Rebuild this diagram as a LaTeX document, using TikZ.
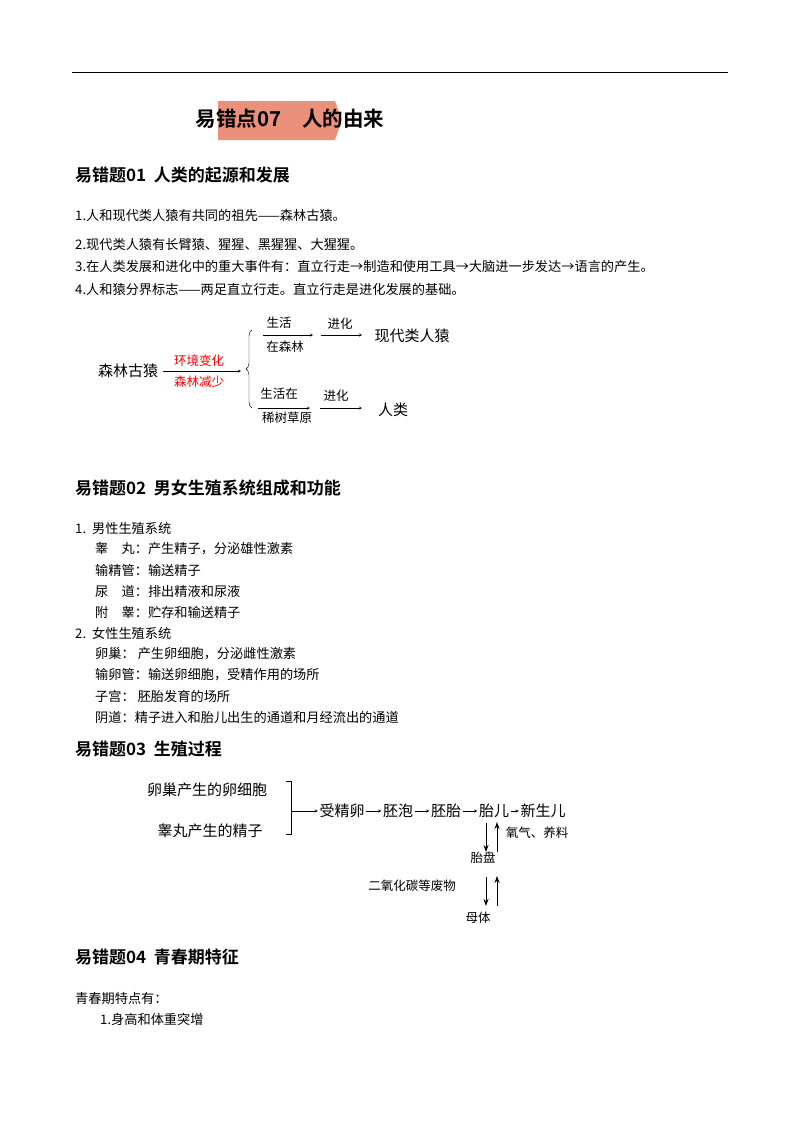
\documentclass[tikz,border=0pt]{standalone}
\usepackage{fontspec}
\setmainfont{Noto Sans CJK SC}
\newfontfamily\cjkbold{Noto Sans CJK SC Bold}
\usetikzlibrary{positioning,decorations.pathreplacing,arrows.meta}
\tikzset{
  body/.style={anchor=west,inner sep=0pt,font=\fontsize{13.2}{15}\selectfont},
  head/.style={anchor=west,inner sep=0pt,font=\fontsize{17}{19}\cjkbold},
  lbl/.style={inner sep=0pt,font=\fontsize{12.5}{14}\selectfont},
  big/.style={inner sep=1.5pt,font=\fontsize{15}{17}\selectfont},
  flow/.style={->,>=stealth,thin},
  bigarr/.style={-{Stealth[length=7pt,width=5pt]},line width=1pt}
}
\begin{document}
\begin{tikzpicture}[x=1pt,y=-1pt]
  \useasboundingbox (0,0) rectangle (800,1132);
  \draw (72,72) -- (728,72);
  % title
  \fill[red!45!brown!60!white] (218,101) -- (335,101) -- (342,120) -- (335,140) -- (218,140) -- cycle;
  \node (title) at (290,119) [inner sep=0pt,font=\fontsize{20.5}{22}\cjkbold] {易错点07\quad 人的由来};
  % 01
  \node (h1) at (75,175) [head] {易错题01\ \ 人类的起源和发展};
  \node (p1) at (75,215) [body] {1.人和现代类人猿有共同的祖先——森林古猿。};
  \node (p2) at (75,245) [body] {2.现代类人猿有长臂猿、猩猩、黑猩猩、大猩猩。};
  \node (p3) at (75,266) [body] {3.在人类发展和进化中的重大事件有：直立行走→制造和使用工具→大脑进一步发达→语言的产生。};
  \node (p4) at (75,289) [body] {4.人和猿分界标志——两足直立行走。直立行走是进化发展的基础。};
  \node (ape) at (128,371) [lbl,font=\fontsize{15}{17}\selectfont] {森林古猿};
  \coordinate (a1) at (163,371);
  \coordinate (a2) at (241,371);
  \draw[flow] (a1) -- (a2);
  \node (env) at (199,361) [lbl,text=red] {环境变化};
  \node (less) at (199,382) [lbl,text=red] {森林减少};
  \draw[decorate,decoration={brace,amplitude=6pt}] (252,408) -- (252,330);
  \coordinate (u1) at (263,335); \coordinate (u2) at (313,335);
  \coordinate (u3) at (321,335); \coordinate (u4) at (362,335);
  \draw[flow] (u1) -- (u2);
  \draw[flow] (u3) -- (u4);
  \node (ul1) at (279,323) [lbl] {生活};
  \node (ul2) at (285,347) [lbl] {在森林};
  \node (ul3) at (340,324) [lbl] {进化};
  \node (modern) at (412,336) [lbl,font=\fontsize{15}{17}\selectfont] {现代类人猿};
  \coordinate (d1) at (258,408); \coordinate (d2) at (310,408);
  \coordinate (d3) at (320,408); \coordinate (d4) at (362,408);
  \draw[flow] (d1) -- (d2);
  \draw[flow] (d3) -- (d4);
  \node (dl1) at (279,394) [lbl] {生活在};
  \node (dl2) at (287,418) [lbl] {稀树草原};
  \node (dl3) at (336,396) [lbl] {进化};
  \node (human) at (393,410) [lbl,font=\fontsize{15}{17}\selectfont] {人类};
  % 02
  \node (h2) at (75,488) [head] {易错题02\ \ 男女生殖系统组成和功能};
  \node (m0) at (75,528) [body] {1.\ \ 男性生殖系统};
  \node (m1) at (95,549) [body] {睾\quad 丸：产生精子，分泌雄性激素};
  \node (m2) at (95,570) [body] {输精管：输送精子};
  \node (m3) at (95,591) [body] {尿\quad 道：排出精液和尿液};
  \node (m4) at (95,612) [body] {附\quad 睾：贮存和输送精子};
  \node (f0) at (75,633) [body] {2.\ \ 女性生殖系统};
  \node (f1) at (95,654) [body] {卵巢：\ 产生卵细胞，分泌雌性激素};
  \node (f2) at (95,675) [body] {输卵管：输送卵细胞，受精作用的场所};
  \node (f3) at (95,696) [body] {子宫：\ 胚胎发育的场所};
  \node (f4) at (95,717) [body] {阴道：精子进入和胎儿出生的通道和月经流出的通道};
  % 03
  \node (h3) at (75,749) [head] {易错题03\ \ 生殖过程};
  \node (egg) at (207,790) [big] {卵巢产生的卵细胞};
  \node (sperm) at (210,831) [big] {睾丸产生的精子};
  \draw (286,781) -- (291,781) -- (291,834) -- (286,834);
  \node (zyg) at (342,811) [big] {受精卵};
  \node (blast) at (398,811) [big] {胚泡};
  \node (emb) at (446,811) [big] {胚胎};
  \node (fetus) at (494,811) [big] {胎儿};
  \node (baby) at (543,811) [big] {新生儿};
  \coordinate (br) at (291,811);
  \draw[flow] (br) -- (zyg);
  \draw[flow] (zyg) -- (blast);
  \draw[flow] (blast) -- (emb);
  \draw[flow] (emb) -- (fetus);
  \draw[flow] (fetus) -- (baby);
  \node (plac) at (483,858) [lbl] {胎盘};
  \node (mom) at (478,918) [lbl] {母体};
  \node (o2) at (537,833) [lbl] {氧气、养料};
  \node (co2) at (412,886) [lbl] {二氧化碳等废物};
  \draw[bigarr] (486,823) -- (486,852);
  \draw[bigarr] (497,852) -- (497,822);
  \draw[bigarr] (486,877) -- (486,906);
  \draw[bigarr] (497,906) -- (497,876);
  % 04
  \node (h4) at (75,957) [head] {易错题04\ \ 青春期特征};
  \node (q0) at (75,998) [body] {青春期特点有：};
  \node (q1) at (100,1019) [body] {1.身高和体重突增};
\end{tikzpicture}
\end{document}
